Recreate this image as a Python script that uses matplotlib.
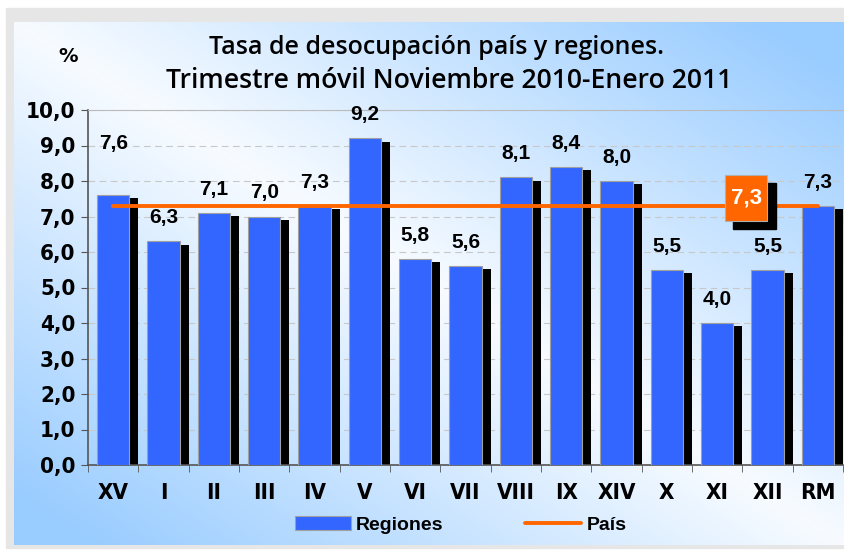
import numpy as np
import matplotlib.pyplot as plt
from matplotlib.patches import Rectangle
from matplotlib.ticker import FuncFormatter, FixedLocator

# Tasa de desocupación por región, trimestre móvil nov 2010 - ene 2011
regiones = ["XV", "I", "II", "III", "IV", "V", "VI", "VII", "VIII", "IX",
            "XIV", "X", "XI", "XII", "RM"]
tasa = [7.6, 6.3, 7.1, 7.0, 7.3, 9.2, 5.8, 5.6, 8.1, 8.4, 8.0, 5.5, 4.0, 5.5, 7.3]
pais = 7.3

blue = "#3366FF"
orange = "#FF6600"


def coma(v, pos=None):
    return f"{v:.1f}".replace(".", ",")


fig = plt.figure(figsize=(8.45, 5.5), dpi=100)
fig.patch.set_facecolor("white")

# gray frame + gradient panel
fig.patches.append(Rectangle((6 / 845, 2 / 550), 839 / 845, 540 / 550,
                             transform=fig.transFigure, color="#E6E6E6", zorder=-10))
bg = fig.add_axes([14 / 845, 5 / 550, 831 / 845, 523 / 550], zorder=-5)
xx, yy = np.meshgrid(np.linspace(0, 1, 300), np.linspace(0, 1, 200))
t = np.clip(np.abs(xx - yy) * 1.1, 0, 1)[..., None]
white = np.array([0.97, 0.985, 1.0])
light = np.array([0.60, 0.80, 1.0])
bg.imshow(white * (1 - t) + light * t, aspect="auto", extent=(0, 1, 0, 1))
bg.axis("off")

ax = fig.add_axes([88 / 845, 85 / 550, 755 / 845, 355 / 550])
ax.patch.set_alpha(0)
x = np.arange(len(regiones))
w = 0.64

# black shadow bars, then blue bars
ax.bar(x + 0.18, np.array(tasa) - 0.09, width=w, color="black", zorder=2)
bars = ax.bar(x, tasa, width=w, color=blue, edgecolor="#A0A0A0", linewidth=0.8,
              zorder=3, label="Regiones")
line, = ax.plot([x[0], x[-1]], [pais, pais], color=orange, lw=2.8, zorder=4,
                solid_capstyle="round", label="País")

for i, v in enumerate(tasa):
    extra = 0.8 if regiones[i] == "XV" else 0.0
    ax.text(x[i], v + 0.4 + extra, coma(v), ha="center", va="bottom",
            fontsize=15, fontweight="bold", family="Liberation Sans", zorder=5)

# country value box
bx, by, bw, bh = 12.16, 6.87, 0.84, 1.3
ax.add_patch(Rectangle((bx + 0.16, by - 0.22), bw, bh, color="black", zorder=5))
ax.add_patch(Rectangle((bx, by), bw, bh, facecolor=orange, edgecolor="#B0B0B0",
                       lw=0.8, zorder=6))
ax.text(bx + bw / 2, by + bh / 2, coma(pais), ha="center", va="center",
        color="white", fontsize=16, fontweight="bold", family="Liberation Sans", zorder=7)

ax.set_xlim(-0.5, len(regiones) - 0.5)
ax.set_ylim(0, 10)
ax.set_yticks(np.arange(0, 11, 1))
ax.yaxis.set_major_formatter(FuncFormatter(coma))
ax.set_xticks(x)
ax.set_xticklabels(regiones)
ax.xaxis.set_minor_locator(FixedLocator(np.arange(-0.5, len(regiones), 1)))
ax.tick_params(axis="x", which="major", length=0, pad=13)
ax.tick_params(axis="x", which="minor", length=5, color="#555555", direction="out")
ax.tick_params(axis="y", length=5, color="#555555", direction="out", pad=4)
for lab in ax.get_xticklabels() + ax.get_yticklabels():
    lab.set_family("DejaVu Sans")
    lab.set_fontstretch("condensed")
    lab.set_fontweight("bold")
    lab.set_fontsize(16)
ax.grid(axis="y", color="#C8C8C8", linestyle=(0, (6, 4)), lw=0.8, zorder=0)
ax.set_axisbelow(True)
for s in ["left", "bottom"]:
    ax.spines[s].set_color("#555555")
    ax.spines[s].set_linewidth(1.2)
ax.spines["top"].set_color("#BBBBBB")
ax.spines["right"].set_visible(False)

fig.text(0.516, 0.913, "Tasa de desocupación país y regiones.", ha="center",
         va="center", fontsize=18, family="Open Sans", fontweight="semibold")
fig.text(0.532, 0.853, "Trimestre móvil Noviembre 2010-Enero 2011", ha="center",
         va="center", fontsize=19.2, family="Open Sans", fontweight="semibold")
fig.text(68 / 845, 1 - 57 / 550, "%", ha="center", va="center", fontsize=14,
         fontweight="bold", family="DejaVu Sans")

fig.legend([bars, line], ["Regiones", "País"], loc="center",
           bbox_to_anchor=(0.545, 0.045), ncol=2, frameon=False,
           columnspacing=4.2, handlelength=2.9, handletextpad=0.25,
           prop={"family": "Liberation Sans", "weight": "bold", "size": 14})
plt.savefig("out.png", dpi=100)
